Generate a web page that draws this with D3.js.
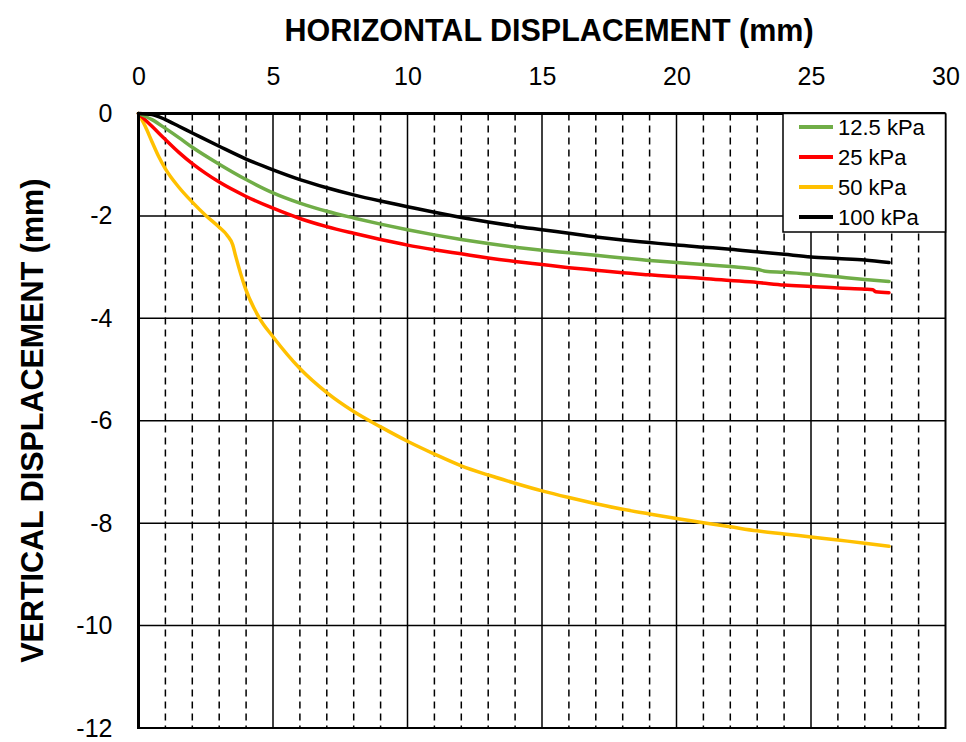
<!DOCTYPE html>
<html lang="en">

<head>
    <meta charset="UTF-8" />
    <title>Horizontal vs vertical displacement</title>
    <script src="https://d3js.org/d3.v7.min.js"></script>
    <style>
        body {
            margin: 0;
            background: #fff;
            font-family: "Liberation Sans", Arial, sans-serif;
        }

        svg {
            display: block;
        }

        .tick text {
            font-family: "Liberation Sans", Arial, sans-serif;
            font-size: 25px;
            fill: #000;
        }

        .title {
            font-weight: bold;
            font-size: 30.5px;
        }

        .legend-label {
            font-size: 22px;
        }
    </style>
</head>

<body>
    <svg id="chart" width="966" height="742"></svg>

    <script>
        // values
        const seriesNames = ["12.5 kPa", "25 kPa", "50 kPa", "100 kPa"];
        const seriesColors = ["#70ad47", "#ff0000", "#ffc000", "#000000"];

        const x125 = [0, 0.5, 1, 1.5, 2, 3, 4, 5, 6, 7, 8, 9, 10, 11, 12, 13, 14, 15, 16, 17, 18, 19, 20, 21, 22, 23, 23.3, 24, 25, 26, 27, 27.9];
        const y125 = [0, -0.12, -0.29, -0.47, -0.66, -0.99, -1.29, -1.55, -1.75, -1.91, -2.04, -2.16, -2.27, -2.37, -2.46, -2.54, -2.61, -2.67, -2.72, -2.77, -2.82, -2.87, -2.91, -2.95, -2.99, -3.04, -3.08, -3.10, -3.14, -3.19, -3.24, -3.28];

        const x25 = [0, 0.5, 1, 1.5, 2, 2.5, 3, 4, 5, 6, 7, 8, 9, 10, 11, 12, 13, 14, 15, 16, 17, 18, 19, 20, 21, 22, 23, 24, 25, 26, 27, 27.3, 27.4, 27.9];
        const y25 = [0, -0.25, -0.51, -0.76, -0.98, -1.17, -1.34, -1.62, -1.85, -2.05, -2.21, -2.34, -2.46, -2.57, -2.66, -2.74, -2.82, -2.89, -2.95, -3.01, -3.06, -3.11, -3.15, -3.19, -3.22, -3.26, -3.30, -3.35, -3.38, -3.41, -3.43, -3.44, -3.48, -3.50];

        const x50 = [0, 0.25, 0.5, 0.75, 1, 1.5, 2, 2.5, 3, 3.3, 3.5, 3.62, 3.95, 4.5, 5, 6, 7, 8, 9, 10, 11, 12, 13, 14, 15, 16, 17, 18, 19, 20, 21, 22, 23, 24, 25, 26, 27, 27.9];
        const y50 = [0, -0.25, -0.55, -0.84, -1.08, -1.44, -1.73, -1.99, -2.22, -2.38, -2.56, -2.80, -3.38, -4.00, -4.36, -4.98, -5.45, -5.82, -6.12, -6.40, -6.65, -6.88, -7.06, -7.22, -7.37, -7.50, -7.62, -7.73, -7.82, -7.91, -7.99, -8.07, -8.15, -8.21, -8.27, -8.33, -8.39, -8.45];

        const x100 = [0, 0.5, 1, 1.5, 2, 3, 4, 5, 6, 7, 8, 9, 10, 11, 12, 13, 14, 15, 16, 17, 18, 19, 20, 21, 22, 23, 24, 25, 26, 27, 27.9];
        const y100 = [0, -0.02, -0.12, -0.25, -0.38, -0.64, -0.89, -1.10, -1.29, -1.45, -1.59, -1.71, -1.82, -1.93, -2.03, -2.12, -2.20, -2.27, -2.34, -2.41, -2.47, -2.52, -2.57, -2.61, -2.65, -2.70, -2.75, -2.80, -2.83, -2.86, -2.91];

        const xTicks = [0, 5, 10, 15, 20, 25, 30];
        const yTicks = [0, -2, -4, -6, -8, -10, -12];
        const xMinor = d3.range(1, 30).filter(v => v % 5 !== 0);

        const seriesX = [x125, x25, x50, x100];
        const seriesY = [y125, y25, y50, y100];

        // layout
        const plot = { left: 138.5, right: 945.5, top: 113.5, bottom: 728 };

        const svg = d3.select("#chart");

        const x = d3.scaleLinear().domain([0, 30]).range([plot.left, plot.right]);
        const y = d3.scaleLinear().domain([0, -12]).range([plot.top, plot.bottom]);

        // minor dashed verticals
        svg.append("g")
            .selectAll("line")
            .data(xMinor)
            .join("line")
            .attr("x1", d => x(d)).attr("x2", d => x(d))
            .attr("y1", plot.top).attr("y2", plot.bottom)
            .attr("stroke", "#000")
            .attr("stroke-width", 1.5)
            .attr("stroke-dasharray", "7,5");

        // major verticals
        svg.append("g")
            .selectAll("line")
            .data(xTicks.slice(1, -1))
            .join("line")
            .attr("x1", d => x(d)).attr("x2", d => x(d))
            .attr("y1", plot.top).attr("y2", plot.bottom)
            .attr("stroke", "#000")
            .attr("stroke-width", 1.5);

        // horizontal gridlines
        svg.append("g")
            .selectAll("line")
            .data(yTicks.slice(1, -1))
            .join("line")
            .attr("x1", plot.left).attr("x2", plot.right)
            .attr("y1", d => y(d)).attr("y2", d => y(d))
            .attr("stroke", "#000")
            .attr("stroke-width", 1.5);

        // right & bottom frame
        svg.append("path")
            .attr("d", `M${plot.right},${plot.top}V${plot.bottom}H${plot.left}`)
            .attr("fill", "none")
            .attr("stroke", "#000")
            .attr("stroke-width", 2);

        // curves
        const line = d3.line()
            .x(d => x(d[0]))
            .y(d => y(d[1]))
            .curve(d3.curveMonotoneX);

        const order = [2, 1, 0, 3];
        order.forEach(i => {
            const pts = seriesX[i].map((v, k) => [v, seriesY[i][k]]);
            svg.append("path")
                .datum(pts)
                .attr("d", line)
                .attr("fill", "none")
                .attr("stroke", seriesColors[i])
                .attr("stroke-width", 3.5)
                .attr("stroke-linejoin", "round")
                .attr("stroke-linecap", "round");
        });

        // axes (top x, left y) - plain hyphen minus like the original
        const xAxis = svg.append("g")
            .attr("transform", `translate(0,${plot.top})`)
            .call(d3.axisTop(x).tickValues(xTicks).tickFormat(d => String(d)).tickSize(0).tickPadding(29));
        xAxis.select(".domain").remove();

        const yAxis = svg.append("g")
            .attr("transform", `translate(${plot.left},0)`)
            .call(d3.axisLeft(y).tickValues(yTicks).tickFormat(d => String(d)).tickSize(0).tickPadding(26));
        yAxis.select(".domain").remove();

        svg.append("line")
            .attr("x1", plot.left - 1.5).attr("x2", plot.right)
            .attr("y1", plot.top).attr("y2", plot.top)
            .attr("stroke", "#000").attr("stroke-width", 3);
        svg.append("line")
            .attr("x1", plot.left).attr("x2", plot.left)
            .attr("y1", plot.top).attr("y2", plot.bottom + 1)
            .attr("stroke", "#000").attr("stroke-width", 3);

        // titles
        svg.append("text")
            .attr("class", "title")
            .attr("x", 549)
            .attr("y", 41)
            .attr("text-anchor", "middle")
            .text("HORIZONTAL DISPLACEMENT (mm)");

        svg.append("text")
            .attr("class", "title")
            .attr("transform", `translate(43,${(plot.top + plot.bottom) / 2}) rotate(-90)`)
            .attr("text-anchor", "middle")
            .text("VERTICAL DISPLACEMENT (mm)");

        // legend
        const legend = svg.append("g");
        legend.append("rect")
            .attr("x", 783).attr("y", plot.top)
            .attr("width", plot.right - 783).attr("height", 232 - plot.top)
            .attr("fill", "#fff")
            .attr("stroke", "#000")
            .attr("stroke-width", 1.5);

        seriesNames.forEach((name, i) => {
            const ly = 127 + i * 30;
            legend.append("line")
                .attr("x1", 799).attr("x2", 833)
                .attr("y1", ly).attr("y2", ly)
                .attr("stroke", seriesColors[i])
                .attr("stroke-width", 4);
            legend.append("text")
                .attr("class", "legend-label")
                .attr("x", 838)
                .attr("y", ly)
                .attr("dy", "0.35em")
                .text(name);
        });
    </script>
</body>

</html>
